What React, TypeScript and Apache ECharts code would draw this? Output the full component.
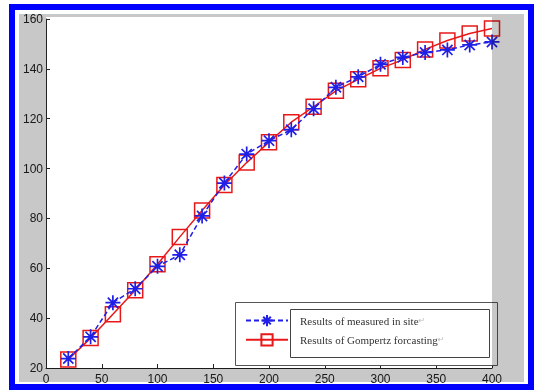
import React, { useEffect, useRef } from "react";
import * as echarts from "echarts";

const xValues = [20, 40, 60, 80, 100, 120, 140, 160, 180, 200, 220, 240, 260, 280, 300, 320, 340, 360, 380, 400];
const measured = [23.8, 32.5, 46.2, 51.8, 60.8, 65.4, 81, 94.2, 105.8, 111.2, 115.6, 124, 132.6, 136.8, 141.8, 144.6, 146.6, 147.6, 149.6, 150.8];
const gompertz = [23.4, 32, 41.6, 51.2, 61.6, 72.6, 83.2, 93.4, 102.4, 110.6, 118.6, 124.8, 131.2, 135.8, 140.2, 143.6, 147.8, 151.4, 154.2, 156.2];
const seriesNames = ["Results of measured in site", "Results of Gompertz forcasting"];

const STAR = "path://M5,0L5,10M0,5L10,5M1.6,1.6L8.4,8.4M1.6,8.4L8.4,1.6";

export default function App() {
  const ref = useRef<HTMLDivElement>(null);
  useEffect(() => {
    document.body.style.margin = "0";
    const chart = echarts.init(ref.current!, undefined, { renderer: "svg" });
    const toPairs = (ys: number[]) => xValues.map((x, i) => [x, ys[i]]);
    chart.setOption({
      animation: false,
      backgroundColor: "transparent",
      graphic: [
        { type: "rect", z: 1, shape: { x: 235.5, y: 302.5, width: 262, height: 63 }, style: { fill: "#ffffff", stroke: "#555555", lineWidth: 1 } },
        { type: "rect", z: 1, shape: { x: 290.5, y: 309.5, width: 199, height: 48 }, style: { fill: "#ffffff", stroke: "#444444", lineWidth: 1 } },
      ],
      grid: { show: false, left: 46, right: 42, top: 19, bottom: 22, containLabel: false },
      legend: {
        show: true,
        orient: "vertical",
        left: 245,
        top: 314,
        itemWidth: 42,
        itemHeight: 14,
        itemGap: 6,
        padding: 0,
        data: seriesNames,
        formatter: (name: string) => name + "{r|↵}",
        textStyle: {
          fontFamily: "Liberation Serif",
          fontSize: 11,
          color: "#333333",
          padding: [0, 0, 0, 7],
          rich: { r: { fontSize: 8, color: "#bbbbbb", fontFamily: "DejaVu Sans" } },
        },
      },
      xAxis: {
        type: "value",
        min: 0,
        max: 400,
        interval: 50,
        axisLine: { show: true, lineStyle: { color: "#222222", width: 1 } },
        axisTick: { show: true, inside: true, length: 4, lineStyle: { color: "#222222" } },
        axisLabel: { color: "#222222", fontSize: 12, fontFamily: "Liberation Sans", margin: 5 },
        splitLine: { show: false },
      },
      yAxis: {
        type: "value",
        min: 20,
        max: 160,
        interval: 20,
        axisLine: { show: true, lineStyle: { color: "#222222", width: 1 } },
        axisTick: { show: true, inside: true, length: 4, lineStyle: { color: "#222222" } },
        axisLabel: { color: "#222222", fontSize: 12, fontFamily: "Liberation Sans", margin: 3 },
        splitLine: { show: false },
      },
      series: [
        {
          name: seriesNames[0],
          type: "line",
          data: toPairs(measured),
          symbol: STAR,
          symbolSize: 15,
          showAllSymbol: true,
          lineStyle: { color: "#1f1fe6", width: 1.5, type: [5, 3] },
          itemStyle: { color: "#1f1fe6", borderColor: "#1f1fe6", borderWidth: 1.7 },
          z: 3,
        },
        {
          name: seriesNames[1],
          type: "line",
          data: toPairs(gompertz),
          symbol: "rect",
          symbolSize: 15,
          showAllSymbol: true,
          lineStyle: { color: "#e81818", width: 1.5 },
          itemStyle: { color: "rgba(0,0,0,0)", borderColor: "#e81818", borderWidth: 1.5 },
          z: 2,
        },
      ],
    });
    return () => chart.dispose();
  }, []);
  return (
    <div style={{ position: "relative", width: 534, height: 390, background: "#ffffff", overflow: "hidden", isolation: "isolate" }}>
      <div style={{ position: "absolute", left: 9, top: 4, width: 525, height: 386, border: "6px solid #0000ff", boxSizing: "border-box" }} />
      <div style={{ position: "absolute", left: 19, top: 14, width: 505, height: 368, background: "#c8c8c8" }} />
      <div style={{ position: "absolute", left: 46, top: 17, width: 446, height: 351, background: "#ffffff" }} />
      <div ref={ref} style={{ position: "absolute", left: 0, top: 0, width: 534, height: 390, mixBlendMode: "multiply" }} />
    </div>
  );
}
